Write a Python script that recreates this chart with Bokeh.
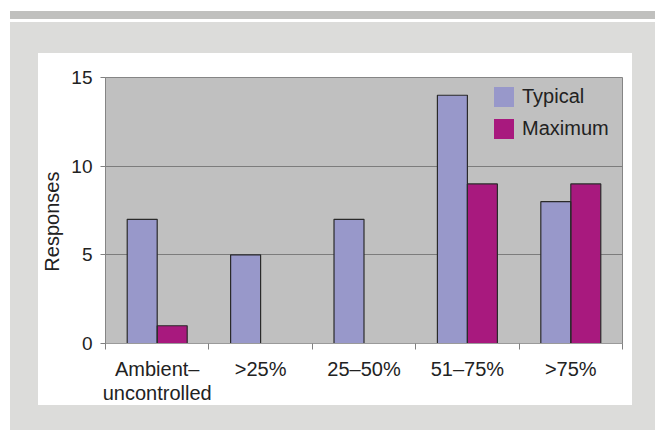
from bokeh.plotting import figure
from bokeh.models import Range1d, FixedTicker, Legend, LegendItem
from bokeh.embed import file_html
from bokeh.resources import INLINE

# ---- data ----
categories = ["Ambient–\nuncontrolled", ">25%", "25–50%", "51–75%", ">75%"]
typical = [7, 5, 7, 14, 8]
maximum = [1, 0, 0, 9, 9]
series_names = ["Typical", "Maximum"]
y_ticks = [0, 5, 10, 15]

# ---- style ----
FONT = "Liberation Sans"
TEXT = "#222222"
C_TYP = "#9898CA"
C_MAX = "#A8197E"
GRID = "#7c7c7c"
W, H = 655, 430

n = len(categories)
p = figure(width=W, height=H, output_backend="svg", toolbar_location=None,
           x_range=Range1d(0, n), y_range=Range1d(0, 15),
           min_border_left=105, min_border_right=33,
           min_border_top=77, min_border_bottom=87)

# page decoration drawn as CSS backgrounds behind a transparent border area
p.border_fill_alpha = 0
p.styles = {
    "background": (
        "linear-gradient(#ffffff,#ffffff) 38px 53px / 594px 352px no-repeat, "
        "linear-gradient(#dcdcda,#dcdcda) 10px 22px / 645px 408px no-repeat, "
        "linear-gradient(#c0c0be,#c0c0be) 10px 11px / 645px 8px no-repeat, "
        "#ffffff"
    )
}
p.background_fill_color = "#c0c0c0"
p.outline_line_color = "#858585"
p.outline_line_width = 1

# bars (fill first, outline on top)
bw = 0.29
x_typ = [i + 0.5 - bw / 2 for i in range(n)]
x_max = [i + 0.5 + bw / 2 for i in range(n)]
r1 = p.vbar(x=x_typ, top=typical, width=bw, fill_color=C_TYP, line_color=None)
r2 = p.vbar(x=x_max, top=maximum, width=bw, fill_color=C_MAX, line_color=None)
p.vbar(x=x_typ, top=typical, width=bw, fill_color=None,
       line_color="#2a2a2a", line_width=1.2)
p.vbar(x=x_max, top=maximum, width=bw, fill_color=None,
       line_color="#2a2a2a", line_width=1.2)

legend = Legend(items=[LegendItem(label=series_names[0], renderers=[r1]),
                       LegendItem(label=series_names[1], renderers=[r2])],
                location=(386, 202), glyph_width=25, glyph_height=25,
                spacing=7, padding=0, margin=0, label_standoff=6,
                background_fill_alpha=0, border_line_color=None,
                label_text_font=FONT, label_text_font_size="20px",
                label_text_color=TEXT)
p.add_layout(legend)

# grid
p.xgrid.visible = False
p.ygrid.ticker = FixedTicker(ticks=y_ticks)
p.ygrid.grid_line_color = GRID
p.ygrid.grid_line_width = 1

# x axis
xa = p.xaxis[0]
xa.ticker = FixedTicker(ticks=[i + 0.5 for i in range(n)],
                        minor_ticks=list(range(n + 1)))
xa.major_label_overrides = {i + 0.5: c for i, c in enumerate(categories)}
xa.major_tick_line_color = None
xa.major_tick_out = 0
xa.major_tick_in = 0
xa.minor_tick_out = 6
xa.minor_tick_in = 0
xa.minor_tick_line_color = "#808080"
xa.axis_line_color = "#9a9a9a"
xa.major_label_text_font = FONT
xa.major_label_text_font_size = "20px"
xa.major_label_text_color = TEXT
xa.major_label_text_line_height = 1.12
xa.major_label_standoff = 8

# y axis
ya = p.yaxis[0]
ya.ticker = FixedTicker(ticks=y_ticks, minor_ticks=[])
ya.major_tick_out = 5
ya.major_tick_in = 0
ya.minor_tick_out = 0
ya.minor_tick_in = 0
ya.major_tick_line_color = "#808080"
ya.axis_line_color = "#858585"
ya.major_label_text_font = FONT
ya.major_label_text_font_size = "19px"
ya.major_label_text_color = TEXT
ya.major_label_standoff = 8
ya.axis_label = "Responses\u00a0\u00a0\u00a0\u00a0"
ya.axis_label_text_font = FONT
ya.axis_label_text_font_size = "20px"
ya.axis_label_text_font_style = "normal"
ya.axis_label_text_color = TEXT
ya.axis_label_standoff = 5

open("out.html", "w").write(file_html(p, INLINE))
